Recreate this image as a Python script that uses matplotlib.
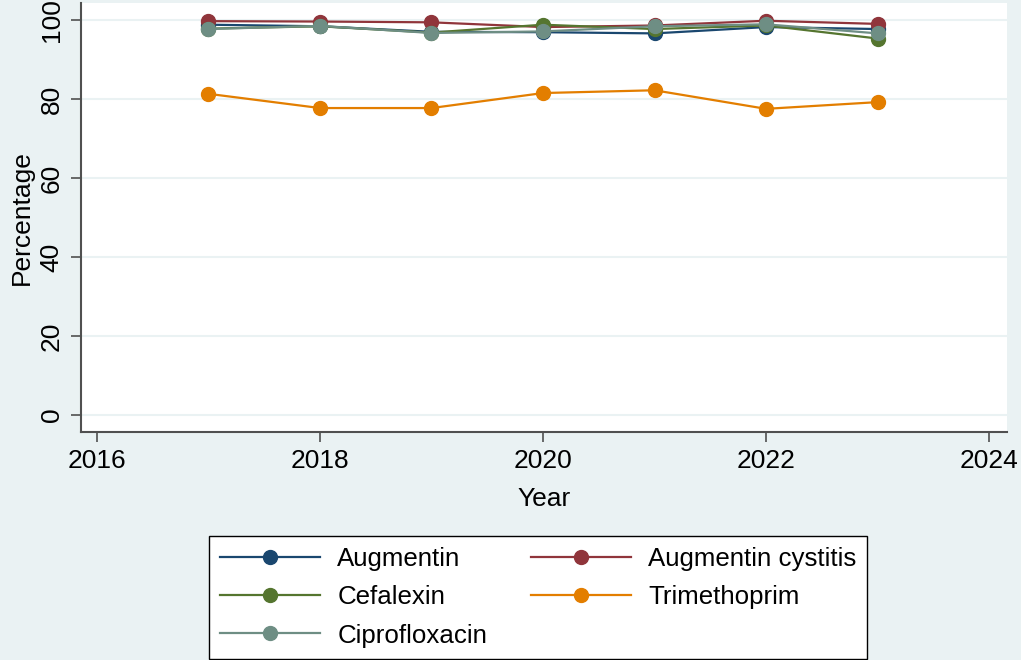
import numpy as np
import matplotlib
matplotlib.use("Agg")
import matplotlib.pyplot as plt

plt.rcParams['font.family'] = ['Liberation Sans', 'DejaVu Sans']

years = [2017, 2018, 2019, 2020, 2021, 2022, 2023]
augmentin = [98.8, 98.4, 97.0, 96.9, 96.6, 98.2, 97.7]
augmentin_cystitis = [99.7, 99.6, 99.4, 98.2, 98.6, 99.8, 99.0]
cefalexin = [97.8, 98.4, 96.8, 98.8, 97.7, 98.6, 95.3]
trimethoprim = [81.3, 77.7, 77.7, 81.5, 82.2, 77.5, 79.2]
ciprofloxacin = [97.7, 98.5, 96.7, 97.1, 98.4, 98.9, 96.6]

series = [
    ("Augmentin", augmentin, "#1a476f"),
    ("Augmentin cystitis", augmentin_cystitis, "#90353b"),
    ("Cefalexin", cefalexin, "#55752f"),
    ("Trimethoprim", trimethoprim, "#e37e00"),
    ("Ciprofloxacin", ciprofloxacin, "#6e8e84"),
]

bg = "#eaf2f3"
fig = plt.figure(figsize=(10.21, 6.6), dpi=100, facecolor=bg)
ax = fig.add_axes([0.0793, 0.3455, 0.907, 0.650])
ax.set_facecolor("white")

lines = []
for name, vals, col in series:
    ln, = ax.plot(years, vals, color=col, lw=1.6, marker='o', ms=10, label=name)
    lines.append(ln)

ax.set_xlim(2015.857, 2024.161)
ax.set_ylim(-4.3, 104.3)
ax.set_xticks([2016, 2018, 2020, 2022, 2024])
ax.set_yticks([0, 20, 40, 60, 80, 100])
ax.yaxis.grid(True, color=bg, lw=1.5)
ax.set_axisbelow(True)

for s in ['top', 'right']:
    ax.spines[s].set_visible(False)
for s in ['left', 'bottom']:
    ax.spines[s].set_color('#505050')
    ax.spines[s].set_linewidth(1.5)

ax.tick_params(axis='both', labelsize=19, color='#505050', width=1.2, length=7)
ax.tick_params(axis='y', pad=5.5)
ax.tick_params(axis='x', pad=5.5)
plt.setp(ax.get_yticklabels(), rotation=90, va='center')
ax.set_xlabel("Year", fontsize=19, labelpad=10)
ax.set_ylabel("Percentage", fontsize=19, labelpad=4)

# row-wise legend order like the original
order = [0, 2, 4, 1, 3]
leg = ax.legend([lines[i] for i in order], [series[i][0] for i in order],
                loc='upper left', bbox_to_anchor=(0.2047, 0.1879),
                bbox_transform=fig.transFigure, borderaxespad=0, ncol=2,
                fontsize=18.6, handlelength=3.87, handletextpad=0.66,
                columnspacing=1.7, labelspacing=0.55, borderpad=0.43,
                fancybox=False, framealpha=1, edgecolor='black')
leg.get_frame().set_linewidth(1.0)

fig.savefig("out.png", dpi=100, facecolor=bg)
